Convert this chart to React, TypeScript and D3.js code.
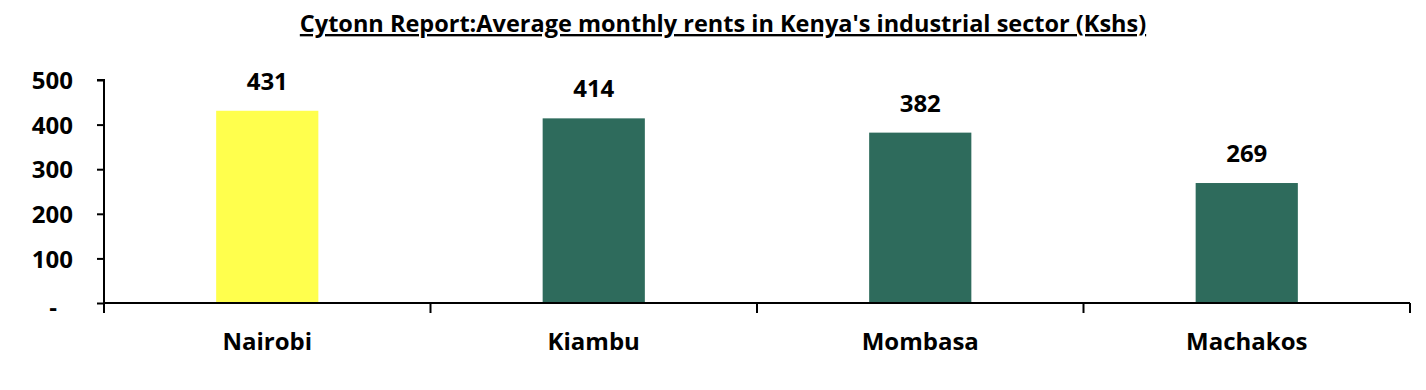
import React, { useEffect, useRef } from 'react';
import * as d3 from 'd3';

// values
const counties = ['Nairobi', 'Kiambu', 'Mombasa', 'Machakos'];
const rents = [431, 414, 382, 269];
const barColors = ['#FFFF4D', '#2E6B5C', '#2E6B5C', '#2E6B5C'];
const yTicks = [0, 100, 200, 300, 400, 500];

const title = "Cytonn Report:Average monthly rents in Kenya's industrial sector (Kshs)";

export default function App() {
    const ref = useRef<SVGSVGElement>(null);
    const width = 1426;
    const height = 390;
    const margin = { top: 80, right: 16, bottom: 87, left: 104 };
    const font = '"Open Sans", Lato, sans-serif';

    useEffect(() => {
        const svg = d3.select(ref.current);
        svg.selectAll('*').remove();

        const xScale = d3.scaleBand()
            .domain(counties)
            .range([margin.left, width - margin.right])
            .paddingInner(0.687)
            .paddingOuter(0.3435);
        const band = d3.scaleBand()
            .domain(counties)
            .range([margin.left, width - margin.right]);
        const yScale = d3.scaleLinear()
            .domain([0, 500])
            .range([height - margin.bottom, margin.top]);

        // title
        svg.append('text')
            .attr('x', 723)
            .attr('y', 32)
            .attr('text-anchor', 'middle')
            .style('font-family', font)
            .style('font-weight', 700)
            .style('font-size', '23.5px')
            .style('text-decoration', 'underline')
            .text(title);

        // bars
        svg.append('g')
            .selectAll('rect')
            .data(rents)
            .enter().append('rect')
            .attr('x', (d, i) => xScale(counties[i]) as number)
            .attr('width', xScale.bandwidth())
            .attr('y', (d) => yScale(d))
            .attr('height', (d) => yScale(0) - yScale(d))
            .attr('fill', (d, i) => barColors[i]);

        // value labels
        svg.append('g')
            .selectAll('text')
            .data(rents)
            .enter().append('text')
            .attr('x', (d, i) => (xScale(counties[i]) as number) + xScale.bandwidth() / 2)
            .attr('y', (d) => yScale(d) - 21)
            .attr('text-anchor', 'middle')
            .style('font-family', font)
            .style('font-weight', 700)
            .style('font-size', '24px')
            .text((d) => d);

        // y axis
        const yAxis = d3.axisLeft(yScale)
            .tickValues(yTicks)
            .tickSize(7)
            .tickPadding(24)
            .tickFormat((d) => (d === 0 ? '-' : String(d)));
        const gy = svg.append('g')
            .attr('transform', 'translate(' + margin.left + ',0)')
            .call(yAxis);
        gy.select('.domain').attr('stroke', '#000').attr('stroke-width', 2).attr('d', 'M-7,' + yScale(500) + 'H0V' + (yScale(0) + 10));
        gy.selectAll('.tick line').attr('stroke', '#000').attr('stroke-width', 2);
        gy.selectAll('.tick text')
            .attr('dy', '0.36em')
            .style('font-family', font)
            .style('font-weight', 700)
            .style('font-size', '24px')
            .attr('fill', '#000');
        // accounting-style dash for zero sits further left
        gy.selectAll('.tick text')
            .filter((d) => d === 0)
            .attr('text-anchor', 'middle')
            .attr('x', -51)
            .attr('dy', '0.5em');

        // x axis
        const x0 = margin.left;
        const x1 = width - margin.right;
        const y0 = yScale(0);
        const gx = svg.append('g');
        gx.append('line')
            .attr('x1', x0).attr('x2', x1)
            .attr('y1', y0).attr('y2', y0)
            .attr('stroke', '#000').attr('stroke-width', 2);
        const bounds = counties.map((c) => band(c) as number).concat([x1]);
        gx.selectAll('.xt')
            .data(bounds)
            .enter().append('line')
            .attr('x1', (d) => d).attr('x2', (d) => d)
            .attr('y1', y0).attr('y2', y0 + 10)
            .attr('stroke', '#000').attr('stroke-width', 2);
        gx.selectAll('.xl')
            .data(counties)
            .enter().append('text')
            .attr('x', (d) => (band(d) as number) + band.bandwidth() / 2)
            .attr('y', 350)
            .attr('text-anchor', 'middle')
            .style('font-family', font)
            .style('font-weight', 700)
            .style('font-size', '24px')
            .text((d) => d);
    }, []);

    return (
        <svg ref={ref} width={width} height={height} style={{ display: 'block', position: 'absolute', left: 0, top: 0 }} />
    );
}
